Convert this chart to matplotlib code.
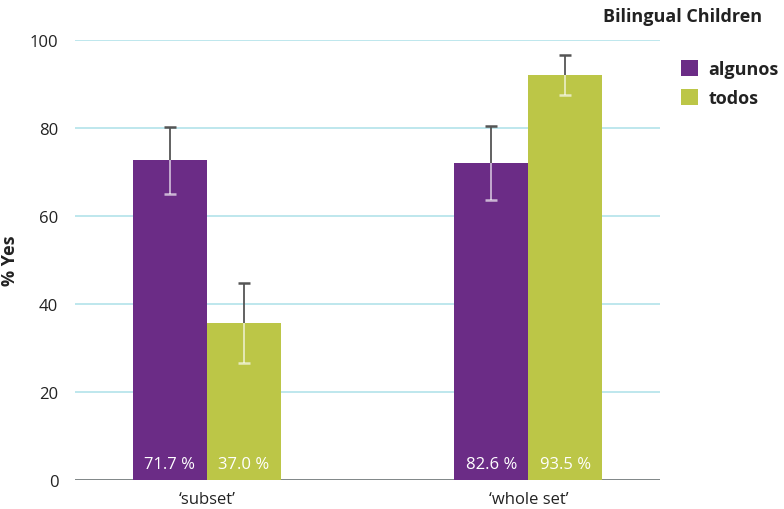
import matplotlib.pyplot as plt
import numpy as np
from matplotlib.patches import Patch

plt.rcParams['font.family'] = ['Open Sans', 'DejaVu Sans']

groups = ['‘subset’', '‘whole set’']
series = ['algunos', 'todos']
colors = ['#6b2c86', '#bcc647']

# bar heights and error half-widths
algunos = [72.7, 72.0]
todos = [35.7, 92.0]
algunos_err = [7.6, 8.4]
todos_err = [9.0, 4.5]
# labels printed in the bars (as in the original)
algunos_lbl = ['71.7 %', '82.6 %']
todos_lbl = ['37.0 %', '93.5 %']

fig = plt.figure(figsize=(7.84, 5.10), dpi=100)
ax = fig.add_axes([0.0957, 0.0569, 0.7463, 0.8627])

x = np.arange(len(groups))
w = 0.23

for vals, errs, lbls, col, off in [(algunos, algunos_err, algunos_lbl, colors[0], -w / 2),
                                   (todos, todos_err, todos_lbl, colors[1], w / 2)]:
    vals = np.array(vals)
    errs = np.array(errs)
    xs = x + off
    ax.bar(xs, vals, width=w, color=col, zorder=2)
    # dark whisker above the bar, light whisker inside it
    ax.vlines(xs, vals, vals + errs, color='#555555', linewidth=1.3, zorder=3)
    ax.plot(xs, vals + errs, ls='none', marker='_', ms=8, mew=1.8, color='#555555', zorder=3)
    ax.vlines(xs, vals - errs, vals, color='white', alpha=0.65, linewidth=1.3, zorder=3)
    ax.plot(xs, vals - errs, ls='none', marker='_', ms=8, mew=1.8, color='white', alpha=0.65, zorder=3)
    for xi, lb in zip(xs, lbls):
        ax.text(xi, 3.6, lb, color='white', ha='center', va='center', fontsize=12, zorder=4)

ax.set_xlim(-0.41, 1.41)
ax.set_ylim(0, 100)
ax.set_yticks([0, 20, 40, 60, 80, 100])
ax.set_xticks(x)
ax.set_xticklabels(groups, fontsize=12.5, color='#222222')
ax.tick_params(axis='both', length=0, labelsize=12, colors='#222222')
ax.tick_params(axis='y', pad=12)
ax.tick_params(axis='x', pad=8)
ax.yaxis.grid(True, color='#b3e3ea', linewidth=1.2, zorder=0)
ax.set_axisbelow(True)
for s in ax.spines.values():
    s.set_visible(False)
ax.axhline(0, color='#777777', linewidth=1.2, zorder=1)

ax.set_ylabel('% Yes', fontsize=13, fontweight='bold', color='#222222', labelpad=8)

fig.text(0.871, 0.966, 'Bilingual Children', fontsize=13, fontweight='bold',
         color='#222222', ha='center', va='center')
handles = [Patch(facecolor=c, edgecolor='none') for c in colors]
fig.legend(handles, series, loc='upper left', bbox_to_anchor=(0.868, 0.88),
           frameon=False, handlelength=0.95, handleheight=0.95, handletextpad=0.6,
           labelspacing=0.6, borderaxespad=0, borderpad=0,
           prop={'weight': 'bold', 'size': 13}, labelcolor='#222222')

fig.savefig('out.png', dpi=100)
